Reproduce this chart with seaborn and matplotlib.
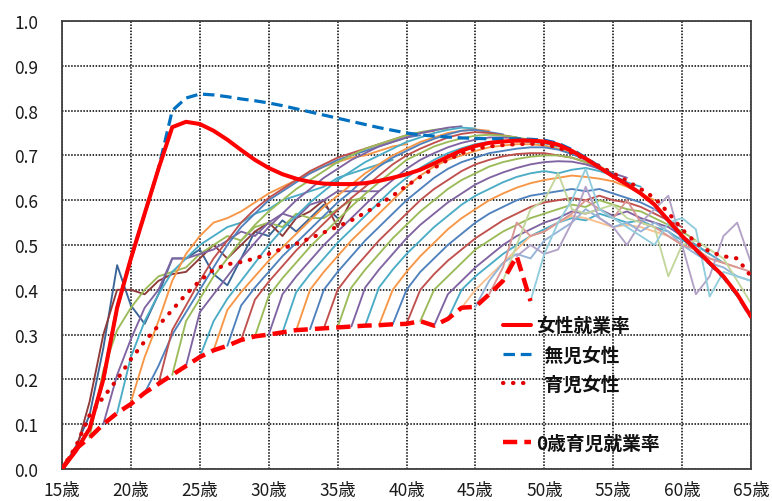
import numpy as np
import pandas as pd
import matplotlib
matplotlib.use("Agg")
import matplotlib.pyplot as plt
from matplotlib.lines import Line2D
import seaborn as sns

# ---------------- data ----------------
ages = list(range(15, 66))
x_tick_values = [15, 20, 25, 30, 35, 40, 45, 50, 55, 60, 65]
x_tick_labels = ["15歳", "20歳", "25歳", "30歳", "35歳", "40歳", "45歳", "50歳", "55歳", "60歳", "65歳"]
y_tick_values = [0.0, 0.1, 0.2, 0.3, 0.4, 0.5, 0.6, 0.7, 0.8, 0.9, 1.0]

# 女性就業率
female_rate = [0.00, 0.04, 0.09, 0.20, 0.36, 0.47, 0.57, 0.67, 0.763, 0.775,
               0.770, 0.755, 0.735, 0.712, 0.690, 0.672, 0.658, 0.648, 0.641, 0.637,
               0.636, 0.636, 0.638, 0.643, 0.650, 0.658, 0.668, 0.682, 0.697, 0.711,
               0.721, 0.728, 0.731, 0.733, 0.733, 0.731, 0.724, 0.710, 0.693, 0.673,
               0.653, 0.635, 0.615, 0.590, 0.555, 0.520, 0.490, 0.460, 0.430, 0.390, 0.340]
# 無児女性
childless_rate = [0.00, 0.04, 0.09, 0.20, 0.36, 0.47, 0.57, 0.67, 0.800, 0.828,
                  0.837, 0.835, 0.831, 0.826, 0.822, 0.817, 0.811, 0.804, 0.797, 0.790,
                  0.783, 0.776, 0.769, 0.762, 0.756, 0.750, 0.746, 0.743, 0.741, 0.739,
                  0.738, 0.737, 0.737, 0.737, 0.736, 0.734, 0.727, 0.713, 0.695, 0.675,
                  0.655, 0.636, 0.615, 0.590, 0.553, 0.518, 0.488, 0.458, 0.428, 0.388, 0.338]
# 育児女性
mother_rate = [0.00, 0.05, 0.12, 0.16, 0.20, 0.245, 0.285, 0.32, 0.355, 0.39,
               0.42, 0.445, 0.457, 0.462, 0.47, 0.48, 0.492, 0.503, 0.515, 0.528,
               0.541, 0.555, 0.572, 0.59, 0.61, 0.632, 0.652, 0.672, 0.69, 0.705,
               0.715, 0.72, 0.723, 0.725, 0.726, 0.725, 0.718, 0.706, 0.692, 0.676,
               0.66, 0.643, 0.625, 0.605, 0.572, 0.535, 0.505, 0.485, 0.475, 0.47, 0.43]
# 0歳育児就業率
age0_ages = list(range(15, 50))
age0_rate = [0.00, 0.045, 0.07, 0.10, 0.125, 0.145, 0.17, 0.19, 0.21, 0.23,
             0.25, 0.265, 0.275, 0.288, 0.296, 0.30, 0.305, 0.31, 0.312, 0.314,
             0.316, 0.318, 0.32, 0.321, 0.323, 0.324, 0.33, 0.32, 0.335, 0.36,
             0.362, 0.39, 0.42, 0.475, 0.375]

# cohort lines (first value is at the start age given in cohort_starts)
cohort_starts = list(range(15, 50))
c15 = [0.0, 0.05, 0.12, 0.27, 0.455, 0.365, 0.324, 0.39, 0.47, 0.47, 0.49, 0.435, 0.41, 0.47, 0.53, 0.52, 0.555, 0.53, 0.56, 0.59, 0.56]
c16 = [0.04, 0.15, 0.30, 0.40, 0.40, 0.39, 0.42, 0.435, 0.44, 0.47, 0.50, 0.47, 0.50, 0.53, 0.55, 0.52, 0.56, 0.575, 0.60, 0.54, 0.60]
c17 = [0.07, 0.22, 0.31, 0.36, 0.40, 0.43, 0.44, 0.45, 0.48, 0.50, 0.52, 0.51, 0.54, 0.55, 0.54, 0.57, 0.56, 0.56, 0.58, 0.60, 0.605]
c18 = [0.10, 0.21, 0.29, 0.36, 0.40, 0.47, 0.47, 0.48, 0.49, 0.51, 0.53, 0.52, 0.55, 0.57, 0.56, 0.59, 0.60, 0.62, 0.62, 0.62, 0.62]
c19 = [0.125, 0.25, 0.33, 0.39, 0.44, 0.47, 0.50, 0.52, 0.54, 0.55, 0.57, 0.58, 0.60, 0.61, 0.62, 0.63, 0.65, 0.66, 0.67, 0.68, 0.69]
c20 = [0.15, 0.25, 0.33, 0.42, 0.48, 0.52, 0.55, 0.56, 0.575, 0.595, 0.615, 0.63, 0.645, 0.66, 0.675, 0.685, 0.695, 0.70, 0.71, 0.72, 0.725]
c21 = [0.17, 0.23, 0.30, 0.35, 0.40, 0.45, 0.50, 0.54, 0.57, 0.60, 0.62, 0.64, 0.66, 0.675, 0.69, 0.70, 0.71, 0.72, 0.73, 0.74, 0.745]
c22 = [0.19, 0.31, 0.365, 0.42, 0.47, 0.51, 0.55, 0.58, 0.605, 0.625, 0.645, 0.665, 0.68, 0.695, 0.705, 0.715, 0.725, 0.735, 0.745, 0.75, 0.755]
c23 = [0.21, 0.33, 0.38, 0.43, 0.47, 0.51, 0.545, 0.575, 0.60, 0.625, 0.645, 0.665, 0.685, 0.70, 0.715, 0.725, 0.735, 0.745, 0.752, 0.757, 0.76]
c24 = [0.23, 0.35, 0.39, 0.43, 0.47, 0.505, 0.54, 0.57, 0.60, 0.625, 0.65, 0.67, 0.69, 0.705, 0.72, 0.73, 0.74, 0.75, 0.756, 0.762, 0.765]
c25 = [0.25, 0.33, 0.38, 0.42, 0.46, 0.50, 0.535, 0.565, 0.595, 0.62, 0.645, 0.665, 0.685, 0.70, 0.715, 0.73, 0.74, 0.75, 0.757, 0.762, 0.76]
c26 = [0.265, 0.355, 0.395, 0.43, 0.465, 0.495, 0.525, 0.555, 0.585, 0.61, 0.635, 0.66, 0.68, 0.70, 0.715, 0.73, 0.74, 0.75, 0.755, 0.758, 0.755]
c27 = [0.275, 0.365, 0.405, 0.44, 0.475, 0.505, 0.535, 0.565, 0.595, 0.62, 0.65, 0.675, 0.695, 0.71, 0.725, 0.737, 0.747, 0.755, 0.757, 0.752, 0.747]
c28 = [0.288, 0.378, 0.418, 0.453, 0.488, 0.518, 0.548, 0.578, 0.605, 0.63, 0.655, 0.68, 0.70, 0.715, 0.728, 0.74, 0.748, 0.752, 0.75, 0.745, 0.74]
c29 = [0.296, 0.386, 0.426, 0.461, 0.496, 0.526, 0.556, 0.586, 0.614, 0.64, 0.665, 0.69, 0.705, 0.72, 0.73, 0.738, 0.744, 0.746, 0.744, 0.74, 0.735]
c30 = [0.30, 0.39, 0.43, 0.465, 0.50, 0.53, 0.56, 0.59, 0.62, 0.645, 0.67, 0.69, 0.705, 0.718, 0.728, 0.735, 0.74, 0.74, 0.738, 0.734, 0.73]
c31 = [0.305, 0.395, 0.435, 0.47, 0.505, 0.535, 0.565, 0.595, 0.625, 0.65, 0.672, 0.69, 0.705, 0.716, 0.725, 0.73, 0.732, 0.732, 0.73, 0.727, 0.72]
c32 = [0.31, 0.40, 0.44, 0.475, 0.51, 0.54, 0.57, 0.60, 0.63, 0.655, 0.675, 0.69, 0.70, 0.71, 0.718, 0.722, 0.725, 0.725, 0.722, 0.715, 0.705]
c33 = [0.312, 0.40, 0.44, 0.475, 0.51, 0.54, 0.57, 0.60, 0.625, 0.65, 0.67, 0.685, 0.695, 0.705, 0.71, 0.715, 0.718, 0.718, 0.713, 0.703, 0.69]
c34 = [0.314, 0.40, 0.44, 0.475, 0.51, 0.54, 0.57, 0.60, 0.625, 0.645, 0.665, 0.68, 0.69, 0.698, 0.703, 0.705, 0.705, 0.70, 0.695, 0.685, 0.67]
c35 = [0.316, 0.405, 0.445, 0.48, 0.515, 0.545, 0.575, 0.60, 0.625, 0.645, 0.66, 0.675, 0.685, 0.692, 0.697, 0.70, 0.70, 0.695, 0.685, 0.675, 0.66]
c36 = [0.318, 0.405, 0.445, 0.48, 0.515, 0.545, 0.57, 0.595, 0.615, 0.635, 0.65, 0.662, 0.672, 0.68, 0.685, 0.687, 0.686, 0.68, 0.67, 0.66, 0.65]
c37 = [0.32, 0.405, 0.445, 0.48, 0.51, 0.54, 0.565, 0.59, 0.61, 0.625, 0.64, 0.652, 0.66, 0.665, 0.66, 0.668, 0.672, 0.665, 0.655, 0.64, 0.63]
c38 = [0.321, 0.40, 0.44, 0.475, 0.505, 0.535, 0.56, 0.58, 0.60, 0.615, 0.628, 0.638, 0.645, 0.65, 0.655, 0.652, 0.648, 0.642, 0.63, 0.615, 0.60]
c39 = [0.323, 0.40, 0.44, 0.47, 0.50, 0.525, 0.55, 0.57, 0.585, 0.60, 0.61, 0.615, 0.62, 0.625, 0.62, 0.625, 0.615, 0.605, 0.595, 0.58, 0.56]
c40 = [0.324, 0.40, 0.435, 0.465, 0.49, 0.515, 0.535, 0.555, 0.57, 0.585, 0.595, 0.60, 0.605, 0.60, 0.61, 0.60, 0.595, 0.585, 0.57, 0.555, 0.54]
c41 = [0.33, 0.40, 0.43, 0.46, 0.49, 0.51, 0.53, 0.545, 0.56, 0.57, 0.58, 0.59, 0.585, 0.60, 0.59, 0.58, 0.575, 0.56, 0.545, 0.53, 0.51]
c42 = [0.32, 0.39, 0.42, 0.45, 0.475, 0.50, 0.52, 0.535, 0.55, 0.56, 0.575, 0.57, 0.58, 0.565, 0.575, 0.56, 0.55, 0.54, 0.52, 0.50, 0.48]
c43 = [0.335, 0.40, 0.43, 0.455, 0.48, 0.50, 0.52, 0.535, 0.55, 0.56, 0.555, 0.57, 0.56, 0.55, 0.555, 0.54, 0.53, 0.51, 0.50, 0.48, 0.46]
c44 = [0.36, 0.40, 0.43, 0.46, 0.49, 0.52, 0.53, 0.55, 0.565, 0.56, 0.55, 0.54, 0.545, 0.54, 0.53, 0.52, 0.50, 0.49, 0.47, 0.46, 0.45]
c45 = [0.362, 0.42, 0.46, 0.48, 0.47, 0.51, 0.53, 0.55, 0.58, 0.56, 0.54, 0.55, 0.53, 0.55, 0.53, 0.50, 0.48, 0.46, 0.45, 0.43, 0.42]
c46 = [0.39, 0.45, 0.55, 0.52, 0.53, 0.55, 0.57, 0.60, 0.58, 0.56, 0.60, 0.55, 0.54, 0.52, 0.50, 0.49, 0.47, 0.46, 0.45, 0.44]
c47 = [0.42, 0.50, 0.58, 0.60, 0.66, 0.58, 0.57, 0.58, 0.59, 0.56, 0.55, 0.54, 0.43, 0.50, 0.51, 0.49, 0.47, 0.42, 0.37]
c48 = [0.475, 0.50, 0.48, 0.49, 0.55, 0.63, 0.56, 0.54, 0.50, 0.55, 0.58, 0.61, 0.50, 0.39, 0.43, 0.52, 0.55, 0.46]
c49 = [0.375, 0.48, 0.55, 0.60, 0.67, 0.58, 0.56, 0.54, 0.52, 0.50, 0.55, 0.56, 0.535, 0.385, 0.44, 0.43, 0.42]

cohort_values = [c15, c16, c17, c18, c19, c20, c21, c22, c23, c24, c25, c26, c27, c28,
                 c29, c30, c31, c32, c33, c34, c35, c36, c37, c38, c39, c40, c41, c42,
                 c43, c44, c45, c46, c47, c48, c49]

legend_labels = ["女性就業率", "  無児女性", "  育児女性", "", "0歳育児就業率"]

# ---------------- styles ----------------
base_colors = ["#4F81BD", "#C0504D", "#9BBB59", "#8064A2", "#4BACC6", "#F79646"]
pale_colors = ["#95B3D7", "#D99694", "#C3D69B", "#B3A2C7", "#93CDDD", "#FAC090"]

def cohort_color(start):
    i = (start - 15) % 6
    if start == 15:
        return "#3A6496"
    if start == 16:
        return "#8E3A38"
    if start >= 44:
        return pale_colors[i]
    return base_colors[i]

sns.set_theme(style="white")
plt.rcParams["font.family"] = ["Noto Sans CJK JP", "DejaVu Sans"]

fig = plt.figure(figsize=(7.72, 5.02), dpi=100)
ax = fig.add_axes([62 / 772, 1 - 470 / 502, 689 / 772, 448 / 502])

# long-form frame of cohort lines
rows = []
for start, vals in zip(cohort_starts, cohort_values):
    for k, v in enumerate(vals):
        rows.append({"age": start + k, "rate": v, "cohort": start})
cdf = pd.DataFrame(rows)
palette = {s: cohort_color(s) for s in cohort_starts}
sns.lineplot(data=cdf, x="age", y="rate", hue="cohort", palette=palette,
             legend=False, linewidth=1.35, ax=ax, estimator=None, sort=False)

red = "#FF0000"
blue = "#0070C0"

sns.lineplot(x=age0_ages, y=age0_rate, color=red, linewidth=3.2, ax=ax)
ax.lines[-1].set_linestyle((0, (3.2, 1.6)))
ax.lines[-1].set_zorder(5)

sns.lineplot(x=ages, y=mother_rate, color="#E00000", linewidth=3.0, ax=ax)
ax.lines[-1].set_linestyle((0, (0.1, 2.3)))
ax.lines[-1].set_dash_capstyle("round")
ax.lines[-1].set_zorder(6)

sns.lineplot(x=ages, y=childless_rate, color=blue, linewidth=2.3, ax=ax)
ax.lines[-1].set_linestyle((0, (3.6, 1.8)))
ax.lines[-1].set_zorder(7)

sns.lineplot(x=ages, y=female_rate, color=red, linewidth=2.9, ax=ax)
ax.lines[-1].set_zorder(8)

# axes
ax.set_xlim(15, 65)
ax.set_ylim(0, 1.0)
ax.set_xticks(x_tick_values)
ax.set_xticklabels(x_tick_labels)
ax.set_yticks(y_tick_values)
ax.set_yticklabels([f"{v:.1f}" for v in y_tick_values])
ax.set_xlabel("")
ax.set_ylabel("")
ax.tick_params(axis="both", length=0, labelsize=12.5, colors="#1a1a1a")
ax.tick_params(axis="y", pad=17)
ax.tick_params(axis="x", pad=9)
for spine in ax.spines.values():
    spine.set_visible(True)
    spine.set_color("#404040")
    spine.set_linewidth(1.3)
ax.set_axisbelow(True)
ax.xaxis.grid(True, which="major", color="#000000", linestyle=(0, (1.0, 1.0)), linewidth=1.1)
ax.yaxis.grid(True, which="major", color="#000000", linestyle=(0, (1.0, 1.0)), linewidth=1.1)

# legend
handles = [
    Line2D([], [], color=red, linewidth=2.9),
    Line2D([], [], color=blue, linewidth=2.3, linestyle=(0, (3.6, 1.8))),
    Line2D([], [], color="#E00000", linewidth=3.0, linestyle=(0, (0.1, 2.3)), dash_capstyle="round"),
    Line2D([], [], color="none"),
    Line2D([], [], color=red, linewidth=3.2, linestyle=(0, (3.2, 1.6))),
]
leg = ax.legend(handles, legend_labels, loc="upper left", bbox_to_anchor=(0.626, 0.362),
                frameon=False, borderpad=0, handlelength=1.5, handletextpad=0.3,
                labelspacing=0.55, prop={"size": 13.5, "weight": "bold"})
for t in leg.get_texts():
    t.set_color("#111111")

fig.savefig("out.png", dpi=100)
